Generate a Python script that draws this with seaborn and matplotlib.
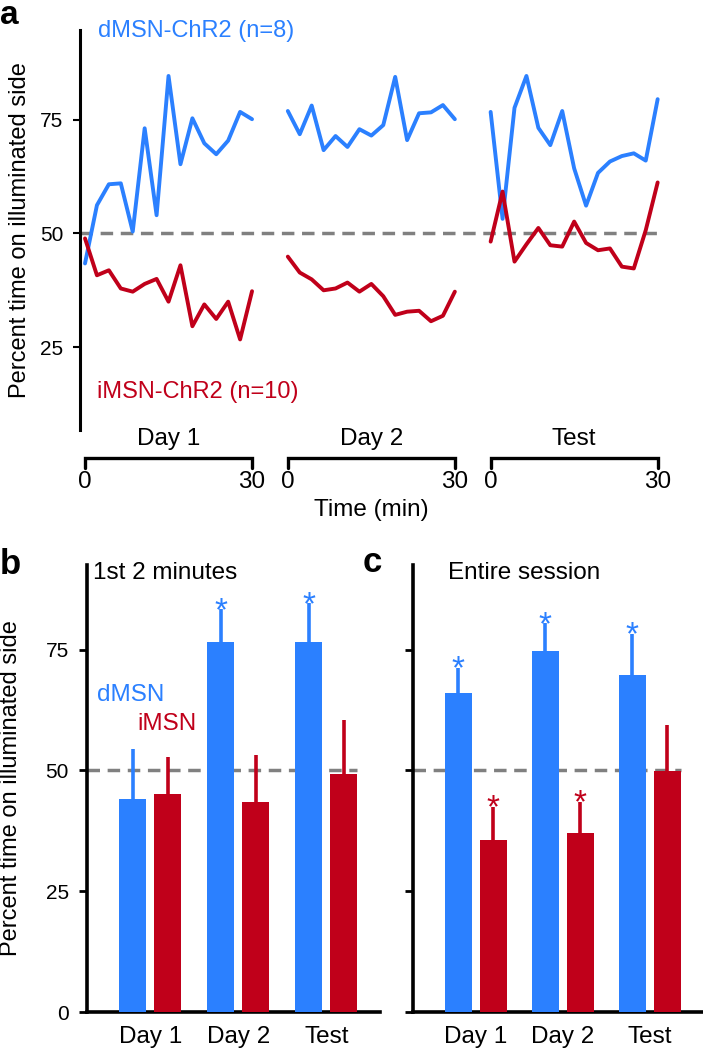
import numpy as np
import pandas as pd
import matplotlib
matplotlib.use('Agg')
import matplotlib.pyplot as plt
import matplotlib.transforms as mtransforms
import seaborn as sns

# Panel a: percent time on illuminated side, 15 two-minute bins per 30 min session
dmsn_day1 = [43.4, 56.2, 60.8, 61.0, 50.4, 73.1, 54.0, 84.6, 65.2, 75.3, 69.8, 67.4, 70.4, 76.7, 75.1]
imsn_day1 = [48.9, 40.8, 41.9, 37.9, 37.2, 38.9, 40.0, 35.0, 43.0, 29.6, 34.4, 31.2, 35.0, 26.7, 37.3]
dmsn_day2 = [76.9, 71.8, 78.1, 68.3, 71.4, 69.0, 72.9, 71.5, 73.8, 84.4, 70.5, 76.4, 76.6, 78.2, 75.1]
imsn_day2 = [44.9, 41.4, 39.9, 37.5, 37.9, 39.2, 37.2, 38.9, 36.2, 32.1, 32.8, 33.0, 30.7, 31.9, 37.2]
dmsn_test = [76.7, 53.2, 77.6, 84.6, 73.2, 69.4, 76.9, 64.3, 56.1, 63.3, 65.8, 67.0, 67.6, 66.0, 79.5]
imsn_test = [48.2, 59.2, 43.8, 47.6, 51.2, 47.4, 47.1, 52.6, 47.9, 46.3, 46.7, 42.7, 42.3, 50.7, 61.2]

sessions = ['Day 1', 'Day 2', 'Test']
groups = ['dMSN', 'iMSN']

# Panel b: first 2 minutes (mean, upper SEM, significance)
first2_dmsn = [44.0, 76.6, 76.5]
first2_dmsn_sem = [10.4, 6.7, 8.1]
first2_imsn = [45.1, 43.5, 49.2]
first2_imsn_sem = [7.7, 9.6, 11.2]
first2_dmsn_sig = [False, True, True]
first2_imsn_sig = [False, False, False]

# Panel c: entire session
entire_dmsn = [66.0, 74.8, 69.8]
entire_dmsn_sem = [5.2, 5.6, 8.5]
entire_imsn = [35.5, 37.0, 49.8]
entire_imsn_sem = [6.9, 6.5, 9.5]
entire_dmsn_sig = [True, True, True]
entire_imsn_sig = [True, True, False]

BLUE = '#2b80ff'
RED = '#c0001a'
GRAY = '#808080'
palette = {'dMSN': BLUE, 'iMSN': RED}

sns.set_style('ticks')
plt.rcParams['font.family'] = ['Liberation Sans', 'DejaVu Sans']
plt.rcParams['axes.edgecolor'] = 'black'
plt.rcParams['text.color'] = 'black'
plt.rcParams['axes.labelcolor'] = 'black'
plt.rcParams['xtick.color'] = 'black'
plt.rcParams['ytick.color'] = 'black'

W, H = 703, 1050
fig = plt.figure(figsize=(W / 100, H / 100), dpi=100)


def px_axes(x0, y0, x1, y1):
    return fig.add_axes([x0 / W, 1 - y1 / H, (x1 - x0) / W, (y1 - y0) / H])


ax_a = px_axes(80, 30, 703, 430)
ax_b = px_axes(87, 565, 380, 1012)
ax_c = px_axes(413, 565, 703, 1012)

DASH = (0, (3.6, 2.2))

# ---- panel a ----
n_bins = len(dmsn_day1)
gap_bins = 3
rows = []
for i, (s, d, r) in enumerate(zip(sessions,
                                  [dmsn_day1, dmsn_day2, dmsn_test],
                                  [imsn_day1, imsn_day2, imsn_test])):
    for j in range(n_bins):
        x = i * (n_bins - 1 + gap_bins) + j
        rows.append({'session': s, 'group': 'dMSN', 'x': x, 'pct': d[j]})
        rows.append({'session': s, 'group': 'iMSN', 'x': x, 'pct': r[j]})
df_a = pd.DataFrame(rows)

sns.lineplot(data=df_a, x='x', y='pct', hue='group', units='session',
             estimator=None, palette=palette, linewidth=2.8, legend=False,
             ax=ax_a, zorder=3)
ax_a.set_xlim(-0.42, 51.8)
ax_a.set_ylim(6.8, 94.7)
ax_a.hlines(50, -0.42, df_a['x'].max(), color=GRAY, lw=2.5,
            linestyles=DASH, zorder=2)
ax_a.set_yticks([25, 50, 75])
ax_a.set_xticks([])
for sp in ['top', 'right', 'bottom']:
    ax_a.spines[sp].set_visible(False)
ax_a.spines['left'].set_linewidth(2.2)
ax_a.tick_params(axis='y', direction='out', length=5, width=1.5, labelsize=15, pad=7)
ax_a.set_xlabel('')
ax_a.set_ylabel('Percent time on illuminated side', fontsize=17)
ax_a.yaxis.set_label_coords(-0.078, 0.5)

ax_a.text(0.029, 0.9975, 'dMSN-ChR2 (n=8)', color=BLUE, fontsize=17,
          ha='left', va='center', transform=ax_a.transAxes)
ax_a.text(0.027, 0.095, 'iMSN-ChR2 (n=10)', color=RED, fontsize=17,
          ha='left', va='center', transform=ax_a.transAxes)

# session brackets under panel a
trans = mtransforms.blended_transform_factory(ax_a.transData, ax_a.transAxes)
for i, s in enumerate(sessions):
    x0 = i * (n_bins - 1 + gap_bins)
    x1 = x0 + n_bins - 1
    ax_a.plot([x0, x0, x1, x1], [-0.095, -0.07, -0.07, -0.095], color='black',
              lw=2.4, transform=trans, clip_on=False, solid_joinstyle='miter')
    ax_a.text((x0 + x1) / 2, -0.05, s, ha='center', va='bottom',
              fontsize=17.5, transform=trans)
    ax_a.text(x0, -0.103, '0', ha='center', va='top', fontsize=17.5, transform=trans)
    ax_a.text(x1, -0.103, '30', ha='center', va='top', fontsize=17.5, transform=trans)
mid = (n_bins - 1 + gap_bins) + (n_bins - 1) / 2
ax_a.text(mid, -0.173, 'Time (min)', ha='center', va='top', fontsize=17.5, transform=trans)


# ---- panels b and c ----
def bar_panel(ax, dmsn, dmsn_sem, imsn, imsn_sem, dmsn_sig, imsn_sig, label_y):
    df = pd.DataFrame({
        'session': sessions * 2,
        'group': ['dMSN'] * 3 + ['iMSN'] * 3,
        'pct': dmsn + imsn,
    })
    sns.barplot(data=df, x='session', y='pct', hue='group', hue_order=groups,
                palette=palette, width=0.8, gap=0.23, saturation=1,
                errorbar=None, legend=False, linewidth=0, ax=ax, zorder=3)
    sems = [dmsn_sem, imsn_sem]
    sigs = [dmsn_sig, imsn_sig]
    right_edge = 0
    for k, cont in enumerate(ax.containers):
        color = palette[groups[k]]
        for bar, sem, sig in zip(cont, sems[k], sigs[k]):
            xc = bar.get_x() + bar.get_width() / 2
            top = bar.get_height()
            right_edge = max(right_edge, bar.get_x() + bar.get_width())
            ax.vlines(xc, top, top + sem, color=color, lw=2.6, zorder=2)
            if sig:
                ax.text(xc, top + sem - 2.2, '*', color=color, fontsize=24,
                        ha='center', va='baseline')
    ax.set_xlim(-0.72, 2.61)
    ax.set_ylim(0, 92.5)
    ax.set_yticks([0, 25, 50, 75])
    ax.hlines(50, -0.72, right_edge, color=GRAY, lw=2.5,
              linestyles=DASH, zorder=1)
    for sp in ['top', 'right']:
        ax.spines[sp].set_visible(False)
    ax.spines['left'].set_linewidth(2.6)
    ax.spines['bottom'].set_linewidth(2.6)
    ax.tick_params(axis='y', direction='out', length=6, width=2, labelsize=15, pad=7)
    ax.tick_params(axis='x', length=0, labelsize=17.5, pad=10)
    ax.set_xlabel('')
    if label_y:
        ax.set_ylabel('Percent time on illuminated side', fontsize=17)
        ax.yaxis.set_label_coords(-0.222, 0.5)
    else:
        ax.set_ylabel('')
        ax.tick_params(axis='y', labelleft=False)


bar_panel(ax_b, first2_dmsn, first2_dmsn_sem, first2_imsn, first2_imsn_sem,
          first2_dmsn_sig, first2_imsn_sig, True)
bar_panel(ax_c, entire_dmsn, entire_dmsn_sem, entire_imsn, entire_imsn_sem,
          entire_dmsn_sig, entire_imsn_sig, False)

ax_b.text(0.02, 0.981, '1st 2 minutes', fontsize=17.5, ha='left', va='center',
          transform=ax_b.transAxes)
ax_b.text(0.034, 65.6, 'dMSN', color=BLUE, fontsize=17.5, ha='left', va='center',
          transform=mtransforms.blended_transform_factory(ax_b.transAxes, ax_b.transData))
ax_b.text(0.171, 59.6, 'iMSN', color=RED, fontsize=17.5, ha='left', va='center',
          transform=mtransforms.blended_transform_factory(ax_b.transAxes, ax_b.transData))
ax_c.text(0.121, 0.981, 'Entire session', fontsize=17.5, ha='left', va='center',
          transform=ax_c.transAxes)

# panel letters
fig.text(0.0, 1.0, 'a', fontsize=24, fontweight='heavy', va='top')
fig.text(0.0, 1 - 574 / H, 'b', fontsize=25, fontweight='heavy', va='baseline')
fig.text(363 / W, 1 - 572 / H, 'c', fontsize=25, fontweight='heavy', va='baseline')

fig.savefig('out.png', dpi=100)
